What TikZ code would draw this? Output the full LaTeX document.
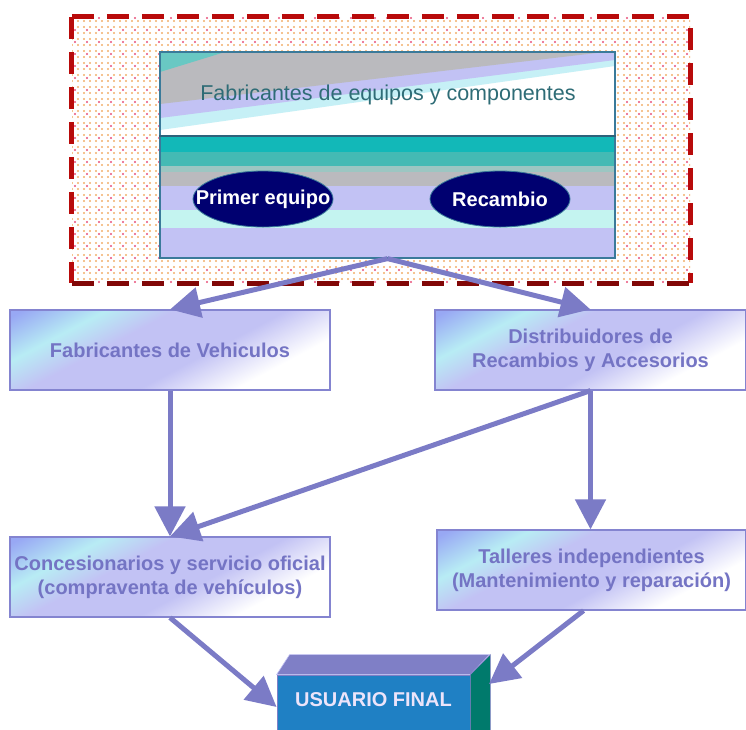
\documentclass[tikz,border=0pt]{standalone}
\usepackage{fontspec}
\setmainfont{Liberation Sans}
\usetikzlibrary{arrows.meta,patterns.meta,calc,shapes.geometric}

\definecolor{arrowc}{HTML}{7B7BC6}
\definecolor{lav}{HTML}{C2C2F4}
\definecolor{lcyan}{HTML}{B8ECF4}
\definecolor{lblue}{HTML}{98A8F4}
\definecolor{boxedge}{HTML}{8484D0}
\definecolor{boxtext}{HTML}{7474C4}
\definecolor{dashred}{HTML}{B80A0A}
\definecolor{peach}{HTML}{FFF7F0}
\definecolor{dotor}{HTML}{F0A050}
\definecolor{dotred}{HTML}{E8507A}
\definecolor{teal1}{HTML}{12B8B8}
\definecolor{teal2}{HTML}{44BAB4}
\definecolor{teal3}{HTML}{9CC6C2}
\definecolor{gray1}{HTML}{BABABE}
\definecolor{cyanl}{HTML}{C4F4F0}
\definecolor{inedge}{HTML}{3A7A9A}
\definecolor{fabtext}{HTML}{2E6C76}
\definecolor{navy}{HTML}{000070}
\definecolor{usrfront}{HTML}{1F80C4}
\definecolor{usrtop}{HTML}{7F7FC6}
\definecolor{usrside}{HTML}{007A6C}
\definecolor{usrtext}{HTML}{ECE4FA}

\pgfdeclareverticalshading{boxshade}{100bp}{color(0bp)=(white); color(30bp)=(white); color(44bp)=(lav); color(60bp)=(lav); color(70bp)=(lcyan); color(82bp)=(lblue); color(100bp)=(lblue)}

\tikzset{
  flowbox/.style={draw=boxedge, line width=1.2, shading=boxshade, shading angle=28,
    minimum height=80, inner sep=1, align=center, text=boxtext,
    font=\bfseries\fontsize{20}{24}\selectfont},
  flowarrow/.style={draw=arrowc, line width=5, -{Triangle[length=30pt,width=30pt]}},
  oval/.style={ellipse, fill=navy, draw=inedge, line width=0.8, minimum width=140, minimum height=56, inner sep=0},
  ovaltext/.style={text=white, font=\bfseries\fontsize{20}{22}\selectfont},
}

\begin{document}
\begin{tikzpicture}[x=1pt,y=-1pt]
\useasboundingbox (0,0) rectangle (746,729);

% outer dotted area
\node[minimum width=618, minimum height=266, inner sep=0, fill=peach,
      pattern={Dots[radius=1.2pt,distance=6pt]}, pattern color=dotor!85] (outer) at (381,150) {};
\fill[pattern={Dots[radius=1.2pt,distance=12pt,xshift=3pt,yshift=3pt]}, pattern color=dotred]
  (outer.south west) rectangle (outer.north east);
\draw[dashred, line width=5, dash pattern=on 22pt off 13pt] (outer.north west) -- (outer.north east) -- (outer.south east);
\draw[dashred, line width=5, dash pattern=on 22pt off 13pt] (outer.north west) -- (outer.south west);
\draw[dashred!70!black, line width=5, dash pattern=on 22pt off 13pt] (outer.south west) -- (outer.south east);

% inner box
\fill[white] (160,52) rectangle (615,136);
\fill[lcyan!80!white] (160,52) -- (615,52) -- (615,66) -- (160,130) -- cycle;
\fill[lav] (160,52) -- (615,52) -- (615,60) -- (160,118) -- cycle;
\fill[gray1] (160,52) -- (605,52) -- (160,104) -- cycle;
\fill[teal2!80] (160,52) -- (225,52) -- (160,72) -- cycle;
\fill[teal1] (160,136) rectangle (615,152);
\fill[teal2] (160,152) rectangle (615,166);
\fill[teal3] (160,166) rectangle (615,172);
\fill[gray1] (160,172) rectangle (615,186);
\fill[lav] (160,186) rectangle (615,210);
\fill[cyanl] (160,210) rectangle (615,228);
\fill[lav] (160,228) rectangle (615,258);
\node[draw=inedge, line width=1.2, minimum width=455, minimum height=206, inner sep=0] (fabeq) at (387.5,155) {};
\draw[inedge!80!black, line width=1.5] (fabeq.west |- 0,136) -- (fabeq.east |- 0,136);
\node[text=fabtext, font=\fontsize{21.5}{24}\selectfont] (fabtxt) at (388,95) {Fabricantes de equipos y componentes};

\node[oval] (pe) at (263,199) {};
\node[ovaltext] (petxt) at (pe) {Primer equipo};
\node[oval] (rec) at (500,199) {};
\node[ovaltext] (rectxt) at (rec) {Recambio};

% boxes
\node[flowbox, minimum width=320] (fv) at (170,350) {Fabricantes de Vehiculos};
\node[flowbox, minimum width=311] (dist) at (590.5,350) {Distribuidores de\\Recambios y Accesorios};
\node[flowbox, minimum width=320] (conc) at (170,577) {Concesionarios y servicio oficial\\(compraventa de vehículos)};
\node[flowbox, minimum width=309] (tall) at (591.5,570) {Talleres independientes\\(Mantenimiento y reparación)};

% usuario final
\node[fill=usrfront, draw=usrtop, line width=0.8, minimum width=193, minimum height=64, inner sep=0] (usr) at (373.5,707) {};
\fill[usrtop, draw=lav, line width=0.6] (usr.north west) -- ++(13,-20) -- ++(200,0) -- (usr.north east) -- cycle;
\fill[usrside, draw=usrtop, line width=0.6] (usr.north east) -- ++(20,-20) -- ++(0,80) -- (usr.south east) -- cycle;
\node[text=usrtext, font=\bfseries\fontsize{20}{22}\selectfont] (usrtxt) at (373.5,700) {USUARIO FINAL};
\coordinate (usrin) at (489,684);

% arrows
\draw[flowarrow] (fabeq.south) -- (fv.north);
\draw[flowarrow] (fabeq.south) -- (dist.north);
\draw[flowarrow] (fv.south) -- (conc.north);
\draw[flowarrow] (dist.south) -- (dist.south |- tall.north);
\draw[flowarrow] (dist.south) -- (conc.north);
\draw[flowarrow] (conc.south) -- (usr.west);
\draw[flowarrow] ($(tall.south)+(-8,0)$) -- (usrin);
\end{tikzpicture}
\end{document}
